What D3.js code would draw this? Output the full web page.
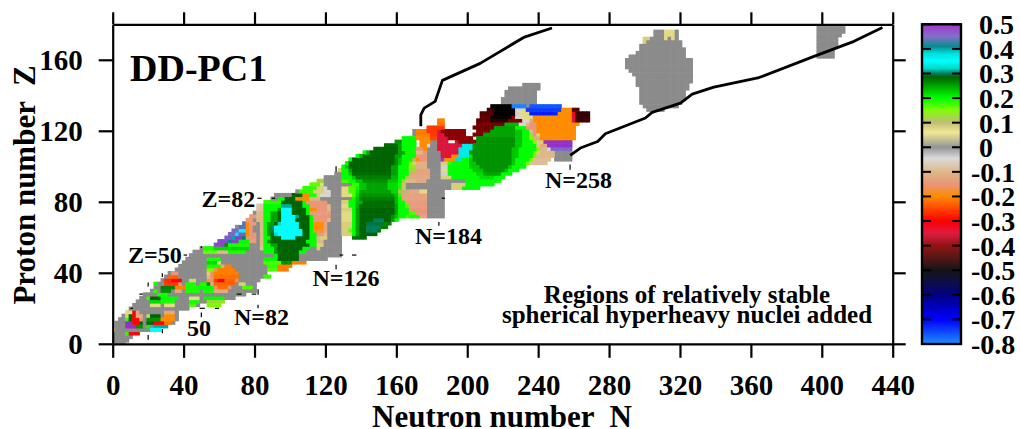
<!DOCTYPE html>
<html><head><meta charset="utf-8">
<script src="https://cdn.jsdelivr.net/npm/d3@7"></script>
<style>html,body{margin:0;padding:0;background:#fff}svg{display:block}text{font-family:"Liberation Serif",serif;font-weight:bold;fill:#000}</style>
</head><body><svg id="c" width="1020" height="429"></svg>
<script>
const colorStops=[0.5,0.45,0.41,0.38,0.35,0.32,0.3,0.285,0.2,0.15,0.1,0.06,0,-0.045,-0.1,-0.15,-0.2,-0.3,-0.35,-0.4,-0.5,-0.6,-0.7,-0.8];
const colorValues=['#9a22c8','#7b68c8','#008b8b','#00e0e0','#00ffff','#00d8c8','#007f5f','#006400','#00ff00','#7cfc00','#bdb76b','#f0e68c','#8b8b8b','#d8d8d8','#deb887','#e9967a','#ff8c00','#ff0000','#dc143c','#8b0000','#000000','#000080','#0000ff','#1e90ff'];
const xTicks=[0,40,80,120,160,200,240,280,320,360,400,440];
const yTicks=[0,40,80,120,160];
const barTicks=[0.5,0.4,0.3,0.2,0.1,0,-0.1,-0.2,-0.3,-0.4,-0.5,-0.6,-0.7,-0.8];
const barLabels=['0.5','0.4','0.3','0.2','0.1','0','-0.1','-0.2','-0.3','-0.4','-0.5','-0.6','-0.7','-0.8'];
const lowerDrip=[[258.1,106.1],[263.8,110.3],[273.6,114],[277.9,118.3],[300.5,127.2],[304.3,130.4],[320.3,135.6],[326.9,140.7],[339.1,144.6],[364.6,150],[395.6,161.9],[418.2,170.4],[434.2,178.2]];
const upperDrip=[[173.8,122.5],[173.8,129],[175.7,132.8],[181.9,136.6],[186,148.4],[207.3,158],[231.8,172.6],[247.8,177.9]];
const magicDashes=[[20,32.3,20,34.6],[28,37.6,28,39.8],[28,6,28,8.3],[20,2.3,20,5],[50,54,50,55],[50,15,50,17.7],[82,27.7,82,30.8],[82,20,82,22],[15,28,17,28],[10,20,11.5,20],[49,20,52,20],[57.7,20,60,20],[70,28,72.7,28],[78.4,28,81,28],[40,50,42,50],[81.6,82,84,82],[89.7,82,91.6,82],[126,97,126,100],[126,42,126,44.5],[128,50,130,50],[135,50,137.5,50],[184,66.5,184,68.6],[185.6,82,187.5,82],[258,98,258,101]];
// gray band: [Z, first N, last N]
const bandRows=[[0,0,6],[2,0,8],[4,0,10],[6,0,14],[8,2,20],[10,2,30],[12,2,34],[14,4,36],[16,6,36],[18,8,36],[20,10,42],[22,12,48],[24,14,62],[26,16,68],[28,18,74],[30,22,80],[32,24,80],[34,26,80],[36,28,82],[38,30,84],[40,32,86],[42,36,98],[44,38,100],[46,40,108],[48,42,120],[50,44,128],[52,46,128],[54,50,128],[56,58,128],[58,60,128],[60,64,128],[62,66,128],[64,68,128],[66,70,128],[68,74,128],[70,76,128],[72,78,128],[74,80,128],[76,82,128],[78,84,128],[80,86,128],[82,90,136],[84,92,136],[86,104,132],[88,108,132],[90,112,136],[92,116,130],[94,120,130],[96,126,128],
[72,178,186],[74,178,186],[76,178,186],[78,178,186],[80,178,186],[82,178,186],[84,178,186],[86,178,186],[88,166,198],[90,166,198],[92,170,198],[94,178,186],[96,178,186],[98,178,186],[100,178,186],[102,178,186],[104,178,186],[106,178,184],[108,178,184],[110,178,182],[112,178,182],[114,180,182],[118,170,172],[120,170,172],[104,250,258],[106,250,258],[108,250,258],
[146,232,240],[144,224,240],[142,222,238],[140,222,238],[138,220,238],[136,220,238],[134,234,234]];
const islandRows=[[176,306,318],[174,306,318],[172,300,318],[170,300,320],[168,298,320],[166,298,322],[164,296,322],[162,292,322],[160,290,326],[158,290,326],[156,290,326],[154,292,326],[152,294,326],[150,296,326],[148,296,326],[146,296,324],[144,298,324],[142,298,322],[140,298,322],[138,298,322],[136,298,320],[134,300,318],[132,302,310],
[178,398,412],[176,398,412],[174,398,410],[172,398,408],[170,398,408],[168,398,408],[166,398,406],[164,398,406],[162,398,406]];
// coloured runs: [Z, [first N, last N, value], ...]
const khakiBits=[[176,[312,316,0.07]],[174,[312,316,0.07]],[172,[300,302,0.08],[312,312,0.07],[316,316,0.07]],[170,[300,300,0.08]]];
const lightRuns=[
[8,[0,0,0.08],[22,26,0.35]],[6,[8,8,0.18],[10,14,-0.32]],
[10,[8,12,0.49],[14,16,0.26],[20,20,0.2],[24,30,0.4]],
[12,[8,10,0.49],[12,14,-0.3],[16,16,0.28],[20,22,0.285],[24,28,-0.3],[30,32,-0.22]],
[14,[8,8,0.18],[10,10,0.285],[12,14,-0.31],[16,16,-0.15],[20,26,0.26],[28,34,-0.2]],
[16,[8,8,0.08],[10,10,0.285],[12,12,-0.3],[14,16,-0.12],[20,20,0.08],[22,26,0.285],[30,34,-0.2]],
[18,[8,10,0.07],[12,12,-0.3],[14,14,-0.13],[30,34,-0.12]],
[22,[22,26,0.07],[30,34,0.07],[44,46,0.17],[54,60,0.15]],
[24,[22,26,0.22],[28,34,0.19],[44,48,0.19],[54,62,0.13]],
[26,[20,20,0.18],[22,26,0.285],[28,28,0.2],[30,36,0.2],[44,48,0.07],[52,62,0.2]],
[28,[26,30,0.19]],
[30,[24,24,0.18],[28,32,0.26],[36,38,-0.13],[42,48,0.19],[52,56,0.19],[58,64,-0.12]],
[32,[28,34,0.27],[36,40,-0.21],[42,48,0.19],[50,56,0.2],[58,58,-0.16],[60,64,-0.22],[66,66,-0.16],[74,78,0.17]],
[34,[24,24,0.19],[30,36,-0.26],[38,38,-0.15],[42,46,0.19],[50,52,0.19],[54,54,0.26],[56,56,-0.13],[58,68,-0.23],[72,74,0.08]],
[36,[30,32,-0.27],[34,38,-0.3],[44,46,0.08],[54,56,-0.16],[58,58,-0.26],[60,62,-0.31],[64,68,-0.23],[70,70,-0.18]],
[38,[32,36,-0.23],[54,54,-0.1],[56,56,-0.16],[58,70,-0.22]],
[40,[34,36,-0.15],[54,54,0.08],[56,56,-0.16],[58,70,-0.21]],
[42,[54,56,0.15],[58,58,-0.16],[60,68,-0.21]],
[44,[54,60,0.19],[62,62,-0.12],[64,66,-0.21]],
[46,[54,58,0.22],[60,60,0.07]],
[48,[54,60,0.19]],
[52,[52,58,0.16],[60,64,-0.1],[66,74,0.19]],
[54,[52,56,0.19],[58,76,0.22]],
[56,[58,62,0.47],[64,64,0.26],[66,76,0.19]],
[58,[60,64,0.47],[66,66,0.41],[68,70,0.48],[72,76,0.2],[78,80,-0.14]],
[60,[64,66,0.46],[68,68,0.4],[70,72,0.48],[74,74,0.3],[76,80,-0.15]],
[62,[66,68,0.45],[70,70,0.37],[72,74,0.46],[76,76,-0.2],[78,80,-0.15]],
[64,[68,70,0.45],[72,74,0.36],[76,76,-0.2],[78,78,-0.15]],
[66,[72,74,0.44],[76,76,-0.2],[78,78,-0.15]],
[68,[74,74,0.44],[76,76,-0.19],[78,80,-0.14]],
[70,[76,78,-0.14]],[72,[78,80,-0.14]]
];
const nearBlob=[
[38,[86,88,0.18]],
[42,[88,92,0.17],[94,98,-0.21]],
[44,[88,92,0.18],[94,100,-0.21]],
[46,[86,94,0.17],[96,100,0.26],[102,108,-0.21]],
[48,[86,92,0.2],[94,104,0.285]],
[50,[92,92,0.2],[94,104,0.285]],
[52,[86,90,0.2],[92,92,0.25],[94,104,0.285],[106,108,0.2]],
[54,[84,84,0.08],[86,90,0.2],[92,92,0.25],[94,106,0.285],[108,110,0.2],[116,116,0.08]],
[56,[84,84,-0.1],[86,88,0.2],[90,92,0.25],[94,110,0.285],[112,114,0.2],[116,118,0.08]],
[58,[84,84,-0.1],[86,86,0.2],[88,88,0.25],[90,108,0.285],[110,114,0.2],[116,118,-0.1]],
[60,[84,84,-0.1],[86,88,0.2],[90,94,0.285],[96,102,0.35],[104,110,0.285],[112,114,0.2],[116,116,-0.1],[118,120,0.08]],
[62,[84,84,-0.1],[86,86,0.2],[88,88,0.25],[90,90,0.285],[92,92,0.32],[94,106,0.35],[108,110,0.285],[112,114,0.2],[116,118,-0.15],[120,120,-0.1],[130,134,0.08]],
[64,[84,84,-0.1],[86,86,0.2],[88,88,0.25],[90,90,0.3],[92,106,0.35],[108,110,0.285],[112,112,0.2],[114,118,-0.18],[120,120,-0.12],[130,132,0.08]],
[66,[84,84,-0.1],[86,86,0.2],[88,88,0.25],[90,90,0.3],[92,104,0.35],[106,110,0.285],[112,112,0.2],[114,118,-0.2],[120,120,-0.13],[130,134,0.08]],
[68,[84,84,-0.1],[86,86,0.2],[88,90,0.25],[92,92,0.285],[94,94,0.32],[96,104,0.35],[106,110,0.285],[112,112,0.2],[114,118,-0.2],[120,120,-0.13],[130,134,0.08]],
[70,[82,84,-0.1],[86,88,0.2],[90,92,0.25],[94,94,0.285],[96,102,0.35],[104,110,0.285],[112,112,0.2],[114,120,-0.15],[122,122,-0.1],[130,134,0.07]],
[72,[82,84,-0.1],[86,88,0.2],[90,92,0.25],[94,94,0.285],[96,102,0.35],[104,104,0.31],[106,110,0.285],[112,112,0.2],[114,122,-0.15],[130,134,0.07]],
[74,[82,84,-0.1],[86,88,0.2],[90,92,0.25],[94,94,0.285],[96,100,0.35],[102,108,0.285],[110,110,0.2],[112,122,-0.14],[130,134,0.07]],
[76,[82,84,-0.08],[86,92,0.2],[94,94,0.25],[96,100,0.35],[102,108,0.285],[110,110,0.2],[112,114,-0.2],[116,120,-0.15],[122,122,-0.1],[130,134,0.08]],
[78,[82,84,-0.08],[86,94,0.2],[96,100,0.31],[102,106,0.285],[108,110,0.2],[112,120,-0.15],[122,122,-0.1],[130,134,0.07]],
[80,[86,94,0.18],[96,106,0.285],[108,108,0.2],[110,120,-0.15],[130,134,0.08]],
[82,[94,96,0.2],[98,102,0.285],[104,110,-0.2],[112,116,-0.1]],
[84,[102,106,0.285],[108,110,-0.2],[112,114,0.19],[116,116,0.08],[118,122,-0.05],[130,134,0.07]],
[86,[106,112,0.18],[114,118,0.08],[120,122,-0.05],[130,134,0.07]],
[88,[108,114,0.18],[116,118,0.08],[120,120,-0.05],[130,134,0.07]],
[90,[112,116,0.16],[118,118,0.07]],
[92,[116,118,0.12]]
];
const beltA=[
[60,[136,142,0.28]],
[62,[136,136,0.2],[138,138,0.25],[140,148,0.285]],
[64,[134,134,0.16],[136,136,0.2],[138,138,0.25],[140,142,0.285],[144,148,0.3],[150,150,0.27]],
[66,[136,136,0.2],[138,138,0.25],[140,142,0.285],[144,150,0.3],[152,154,0.27]],
[68,[136,136,0.2],[138,138,0.25],[140,142,0.285],[144,152,0.295],[154,156,0.27]],
[70,[136,136,0.2],[138,138,0.25],[140,146,0.285],[148,152,0.3],[154,156,0.285],[158,158,0.25],[160,160,0.2]],
[72,[136,136,0.2],[138,138,0.25],[140,156,0.285],[158,158,0.26],[160,160,0.23],[162,164,0.2],[166,166,0.17],[168,172,0.19],[174,176,-0.13]],
[74,[136,136,0.2],[138,138,0.25],[140,158,0.285],[160,160,0.25],[162,166,0.2],[168,170,0.17],[172,176,-0.15]],
[76,[136,136,0.2],[138,138,0.25],[140,158,0.285],[160,160,0.25],[162,166,0.2],[168,176,-0.15]],
[78,[134,136,0.2],[138,138,0.24],[140,158,0.28],[160,160,0.25],[162,164,0.2],[166,166,0.17],[168,176,-0.14]],
[80,[134,136,0.2],[138,140,0.24],[142,158,0.28],[160,160,0.24],[162,164,0.2],[166,176,-0.14]],
[82,[136,136,0.2],[138,138,0.23],[140,158,0.27],[160,160,0.24],[162,162,0.2],[164,176,-0.13]],
[84,[136,136,0.17],[138,138,0.22],[140,158,0.26],[160,160,0.23],[162,162,0.18],[164,176,-0.13]],
[86,[134,136,0.17],[138,138,0.21],[140,156,0.25],[158,160,0.22],[162,166,0.1],[168,172,-0.12],[174,176,0.07]],
[88,[134,136,0.17],[138,138,0.2],[140,142,0.23],[144,154,0.25],[156,160,0.22],[162,162,0.19],[164,164,0.09]],
[90,[136,138,0.18],[140,142,0.23],[144,154,0.25],[156,160,0.22],[162,162,0.19],[164,164,0.09]],
[92,[130,132,0.17],[134,136,0.2],[138,140,0.23],[142,154,0.26],[156,160,0.23],[162,162,0.2],[164,164,0.12],[166,170,-0.1],[172,176,-0.12]],
[94,[130,134,0.2],[136,136,0.23],[138,156,0.27],[158,160,0.24],[162,164,0.2],[166,166,0.12],[168,178,-0.12],[186,190,0.08]],
[96,[130,132,0.2],[134,134,0.23],[136,156,0.28],[158,160,0.25],[162,166,0.2],[168,168,0.1],[170,178,-0.13],[186,188,-0.04]],
[98,[128,128,0.08],[130,132,0.2],[134,134,0.25],[136,156,0.285],[158,160,0.25],[162,166,0.2],[168,170,0.12],[172,178,-0.13],[186,188,0.07]],
[100,[130,130,0.2],[132,132,0.23],[134,156,0.285],[158,160,0.25],[162,166,0.2],[168,170,0.14],[172,176,-0.11],[186,188,-0.04]],
[102,[132,132,0.2],[134,158,0.285],[160,160,0.26],[162,162,0.23],[164,166,0.2],[168,168,0.15],[170,170,0.08],[172,176,-0.11],[186,188,0.08],[190,190,0.18]],
[104,[134,134,0.2],[136,158,0.285],[160,160,0.26],[162,162,0.23],[164,168,0.2],[170,170,0.1],[172,172,-0.2],[174,176,-0.15],[186,186,0.48],[188,192,-0.2],[194,198,0.38]],
[106,[138,138,0.2],[140,140,0.24],[142,158,0.285],[160,162,0.25],[164,170,0.2],[172,176,-0.15],[186,190,-0.35],[192,194,-0.2],[196,200,0.37]],
[108,[142,142,0.2],[144,144,0.24],[146,160,0.285],[162,164,0.25],[166,170,0.2],[172,174,-0.1],[176,176,-0.15],[186,194,-0.35],[196,200,0.37]],
[110,[148,160,0.285],[162,162,0.25],[164,170,0.2],[172,174,-0.15],[176,176,-0.2],[184,194,-0.35],[196,202,0.37]],
[112,[154,160,0.28],[162,162,0.25],[164,170,0.2],[174,176,-0.2],[178,178,-0.05],[184,196,-0.35],[198,202,0.37]],
[114,[160,162,0.26],[164,170,0.2],[174,178,-0.2],[184,188,-0.35],[194,194,-0.36],[196,204,-0.4]],
[116,[164,170,0.2],[172,178,-0.2],[180,182,-0.25],[184,188,-0.35],[190,202,-0.4]],
[118,[172,178,-0.21],[180,182,-0.26],[184,186,-0.35],[188,198,-0.4],[204,208,-0.41]],
[120,[172,176,-0.21],[178,182,-0.26],[184,184,-0.35],[186,198,-0.4],[206,212,-0.41]],
[122,[178,186,-0.26]],[124,[184,186,-0.22]],[126,[184,186,-0.21]]
];
const beltB=[
[88,[192,196,0.08],[198,206,0.2]],
[90,[192,198,0.08],[200,214,0.2]],
[92,[200,216,0.2],[218,218,0.19]],
[94,[192,206,0.2],[208,214,0.22],[216,220,0.2]],
[96,[190,204,0.2],[206,208,0.22],[210,218,0.25],[220,224,0.2]],
[98,[190,202,0.2],[204,208,0.23],[210,220,0.26],[222,222,0.23],[224,228,0.2]],
[100,[190,200,0.2],[202,206,0.23],[208,222,0.26],[224,224,0.23],[226,232,0.2]],
[102,[192,200,0.2],[202,204,0.23],[206,224,0.26],[226,226,0.23],[228,232,0.2],[234,234,0.16],[236,244,-0.09]],
[104,[198,200,0.2],[202,202,0.23],[204,224,0.26],[226,226,0.23],[228,234,0.2],[236,236,0.15],[238,246,-0.09]],
[106,[202,202,0.21],[204,224,0.26],[226,228,0.23],[230,236,0.2],[238,238,0.14],[240,248,-0.1]],
[108,[202,224,0.26],[226,228,0.23],[230,236,0.2],[238,238,0.15],[240,240,0.08],[242,248,-0.1]],
[110,[204,224,0.26],[226,228,0.23],[230,238,0.2],[240,240,0.15],[242,244,-0.1],[246,246,-0.05],[248,258,0.45]],
[112,[204,226,0.26],[228,230,0.23],[232,238,0.2],[240,240,0.08],[242,244,-0.12],[246,258,0.49]],
[114,[206,226,0.26],[228,230,0.23],[232,236,0.2],[238,238,0.15],[240,242,0.08],[244,258,0.49]],
[116,[206,226,0.26],[228,230,0.23],[232,234,0.2],[236,236,0.15],[238,240,-0.12],[242,260,-0.2]],
[118,[210,226,0.25],[228,230,0.23],[232,234,0.2],[236,236,0.14],[238,238,-0.15],[240,240,0.08],[242,260,-0.2]],
[120,[214,226,0.25],[228,230,0.23],[232,234,0.2],[236,236,-0.1],[238,238,-0.15],[240,260,-0.2]],
[122,[204,214,-0.42],[216,226,0.25],[228,232,0.2],[234,238,-0.15],[240,260,-0.2]],
[124,[206,220,-0.41],[222,228,0.24],[230,232,-0.05],[234,234,-0.1],[236,238,-0.15],[240,262,-0.2]],
[126,[206,212,-0.43],[214,222,-0.47],[224,230,-0.41],[232,234,-0.05],[236,236,-0.12],[238,258,-0.2],[260,260,-0.35],[262,268,-0.45]],
[128,[208,212,-0.43],[214,224,-0.49],[226,226,-0.41],[228,230,-0.05],[232,236,0.07],[238,258,-0.2],[260,260,-0.35],[262,268,-0.46]],
[130,[208,214,-0.44],[216,226,-0.5],[228,228,-0.04],[230,234,0.07],[236,250,-0.72],[252,258,-0.2],[260,260,-0.32],[262,268,-0.46]],
[132,[212,214,-0.45],[216,226,-0.5],[228,230,-0.05],[232,232,0.07],[234,252,-0.74],[254,258,-0.2],[260,262,-0.44]],
[134,[214,224,-0.5],[226,232,-0.79],[236,252,-0.76]]
];
const svg=d3.select('#c');
const x=d3.scaleLinear().domain([0,440]).range([112.7,892.7]);
const y=d3.scaleLinear().domain([0,180]).range([343.8,24.3]);
const color=d3.scaleLinear().domain(colorStops).range(colorValues).clamp(true);
const defs=svg.append('defs');
defs.append('clipPath').attr('id','frame').append('rect').attr('x',x(0)).attr('y',y(180)).attr('width',x(440)-x(0)).attr('height',y(0)-y(180));
const cells=new Map();
const put=(z,a,b,v)=>{for(let n=a;n<=b;n+=2)cells.set(n+'_'+z,{n,z,v});};
bandRows.concat(islandRows).forEach(r=>put(r[0],r[1],r[2],0));
[khakiBits,lightRuns,nearBlob,beltA,beltB].forEach(list=>list.forEach(r=>r.slice(1).forEach(s=>put(r[0],s[0],s[1],s[2]))));
const map=svg.append('g').attr('clip-path','url(#frame)');
map.selectAll('rect').data(Array.from(cells.values())).join('rect')
 .attr('x',d=>x(d.n-1)).attr('y',d=>y(d.z+1))
 .attr('width',d=>x(d.n+1)-x(d.n-1)+0.6).attr('height',d=>y(d.z-1)-y(d.z+1)+0.6)
 .attr('fill',d=>color(d.v));
svg.append('g').selectAll('line').data(magicDashes).join('line')
 .attr('x1',d=>x(d[0])).attr('y1',d=>y(d[1])).attr('x2',d=>x(d[2])).attr('y2',d=>y(d[3]))
 .attr('stroke','#000').attr('stroke-width',1.2);
const line=d3.line().x(d=>x(d[0])).y(d=>y(d[1]));
[lowerDrip,upperDrip].forEach(p=>svg.append('path').attr('d',line(p)).attr('fill','none').attr('stroke','#000').attr('stroke-width',2.8).attr('stroke-linejoin','round'));
function styleAxis(g){g.selectAll('path.domain').attr('stroke','#000').attr('stroke-width',2.2);g.selectAll('.tick line').attr('stroke','#000').attr('stroke-width',2.2);g.selectAll('text').style('font-family','"Liberation Serif",serif').style('font-weight','bold').style('font-size','29px').attr('fill','#000');}
svg.append('g').attr('transform',`translate(0,${y(0)})`).call(d3.axisBottom(x).tickValues(xTicks).tickSize(14).tickPadding(17).tickSizeOuter(0)).call(styleAxis);
svg.append('g').attr('transform',`translate(0,${y(180)})`).call(d3.axisTop(x).tickValues(xTicks).tickSize(12).tickFormat('').tickSizeOuter(0)).call(styleAxis);
svg.append('g').attr('transform',`translate(${x(0)},0)`).call(d3.axisLeft(y).tickValues(yTicks).tickSize(14).tickPadding(16).tickSizeOuter(0)).call(styleAxis);
svg.append('g').attr('transform',`translate(${x(440)},0)`).call(d3.axisRight(y).tickValues(yTicks).tickSize(13).tickFormat('').tickSizeOuter(0)).call(styleAxis);
const t=(s,px,py,size,anchor)=>svg.append('text').attr('x',px).attr('y',py).attr('font-size',size).attr('text-anchor',anchor||'start').style('white-space','pre').text(s);
t('DD-PC1',130,81,38);
t('Neutron number  N',372,426.5,31);
svg.append('text').attr('transform','translate(35,185) rotate(-90)').attr('text-anchor','middle').attr('font-size',31).style('white-space','pre').text('Proton number  Z');
const notes=[['Z=82',201.5,206.5],['Z=50',128,263],['N=82',234,325],['50',187,336],['N=126',312.5,286],['N=184',415,244],['N=258',545,188]];
notes.forEach(n=>t(n[0],n[1],n[2],24));
t('Regions of relatively stable',687,303,25,'middle');
t('spherical hyperheavy nuclei added',687,323,25,'middle');
const b=d3.scaleLinear().domain([-0.8,0.5]).range([344,24.3]);
const bar=svg.append('g');
bar.selectAll('rect').data(d3.range(-0.8,0.5,0.0041)).join('rect').attr('x',922).attr('width',39).attr('y',d=>b(d+0.0041)).attr('height',d=>b(d)-b(d+0.0041)+0.4).attr('fill',d=>color(d));
bar.append('rect').attr('x',922).attr('y',24.3).attr('width',39).attr('height',319.7).attr('fill','none').attr('stroke','#000').attr('stroke-width',2.4);
bar.selectAll('line.a').data(barTicks).join('line').attr('class','a').attr('x1',922).attr('x2',931).attr('y1',d=>b(d)).attr('y2',d=>b(d)).attr('stroke','#000').attr('stroke-width',2);
bar.selectAll('line.c').data(barTicks).join('line').attr('class','c').attr('x1',952).attr('x2',961).attr('y1',d=>b(d)).attr('y2',d=>b(d)).attr('stroke','#000').attr('stroke-width',2);
bar.selectAll('text').data(barLabels).join('text').attr('x',d=>d[0]==='-'?971:979).attr('y',(d,i)=>b(barTicks[i])+10).attr('font-size',28).text(d=>d);
</script></body></html>
